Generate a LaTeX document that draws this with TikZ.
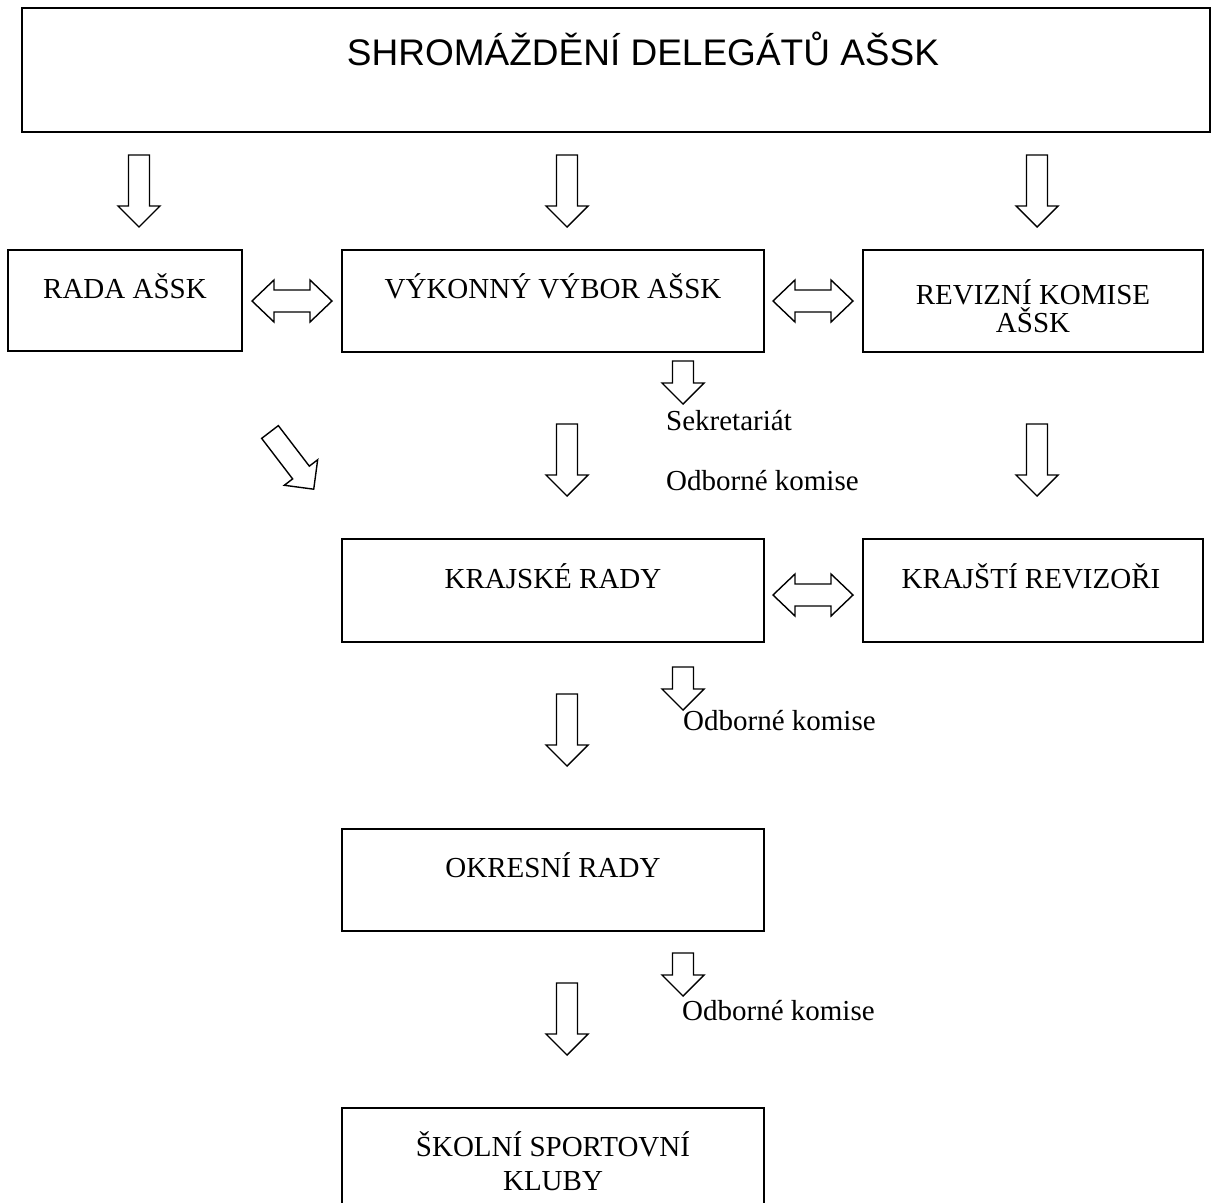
\documentclass[tikz,border=0pt]{standalone}
\usepackage{fontspec}
\setmainfont{Liberation Serif}
\newfontfamily\arialf{Liberation Sans}
\begin{document}
\begin{tikzpicture}[x=1pt,y=-1pt,
  box/.style={draw=black,line width=1.5pt,rectangle,inner sep=0pt},
  lbl/.style={inner sep=0pt,anchor=base,font=\fontsize{29}{28}\selectfont},
  side/.style={inner sep=0pt,anchor=base west,font=\fontsize{29}{28}\selectfont},
  arr/.style={draw=black,line width=1.4pt,line join=miter,fill=white},
  pics/downarr/.style={code={
    \draw[arr] (-10.5,0) -- (10.5,0) -- (10.5,#1) -- (21,#1) -- (0,{#1+21}) -- (-21,#1) -- (-10.5,#1) -- cycle;}},
  pics/dblarr/.style={code={
    \draw[arr] (-40,0) -- (-18,-21) -- (-18,-11) -- (18,-11) -- (18,-21) -- (40,0) -- (18,21) -- (18,11) -- (-18,11) -- (-18,21) -- cycle;}}
]
\clip (0,0) rectangle (1212,1202);
\fill[white] (0,0) rectangle (1212,1202);

% boxes
\node[box,minimum width=1188pt,minimum height=124pt] (top) at (616,70) {};
\node[inner sep=0pt,anchor=base,font=\arialf\fontsize{37}{37}\selectfont] (toptxt) at (643,65) {SHROMÁŽDĚNÍ DELEGÁTŮ AŠSK};

\node[box,minimum width=234pt,minimum height=101pt] (rada) at (125,300.5) {};
\node[lbl] (radatxt) at (125,298) {RADA AŠSK};

\node[box,minimum width=422pt,minimum height=102pt] (vv) at (553,301) {};
\node[lbl] (vvtxt) at (553,298) {VÝKONNÝ VÝBOR AŠSK};

\node[box,minimum width=340pt,minimum height=102pt] (rev) at (1033,301) {};
\node[lbl] (revtxt1) at (1033,304) {REVIZNÍ KOMISE};
\node[lbl] (revtxt2) at (1033,332) {AŠSK};

\node[box,minimum width=422pt,minimum height=103pt] (kraj) at (553,590.5) {};
\node[lbl] (krajtxt) at (553,588) {KRAJSKÉ RADY};

\node[box,minimum width=340pt,minimum height=103pt] (krev) at (1033,590.5) {};
\node[lbl] (krevtxt) at (1031,588) {KRAJŠTÍ REVIZOŘI};

\node[box,minimum width=422pt,minimum height=102pt] (okr) at (553,880) {};
\node[lbl] (okrtxt) at (553,877) {OKRESNÍ RADY};

\node[box,minimum width=422pt,minimum height=122pt] (skol) at (553,1169) {};
\node[lbl] (skoltxt1) at (553,1156) {ŠKOLNÍ SPORTOVNÍ};
\node[lbl] (skoltxt2) at (553,1190) {KLUBY};

% side labels
\node[side] (sekr) at (666,430) {Sekretariát};
\node[side] (odb1) at (666,490) {Odborné komise};
\node[side] (odb2) at (683,730) {Odborné komise};
\node[side] (odb3) at (682,1020) {Odborné komise};

% block arrows
\pic at (139,155) {downarr=51};
\pic at (567,155) {downarr=51};
\pic at (1037,155) {downarr=51};

\pic at (292,301) {dblarr};
\pic at (813,301) {dblarr};
\pic at (813,595) {dblarr};

\pic at (683,361) {downarr=22};
\pic at (567,424) {downarr=51};
\pic at (1037,424) {downarr=51};
\pic[rotate=37.4] at (270,432) {downarr=51};

\pic at (683,667) {downarr=22};
\pic at (567,694) {downarr=51};

\pic at (683,953) {downarr=22};
\pic at (567,983) {downarr=51};
\end{tikzpicture}
\end{document}
